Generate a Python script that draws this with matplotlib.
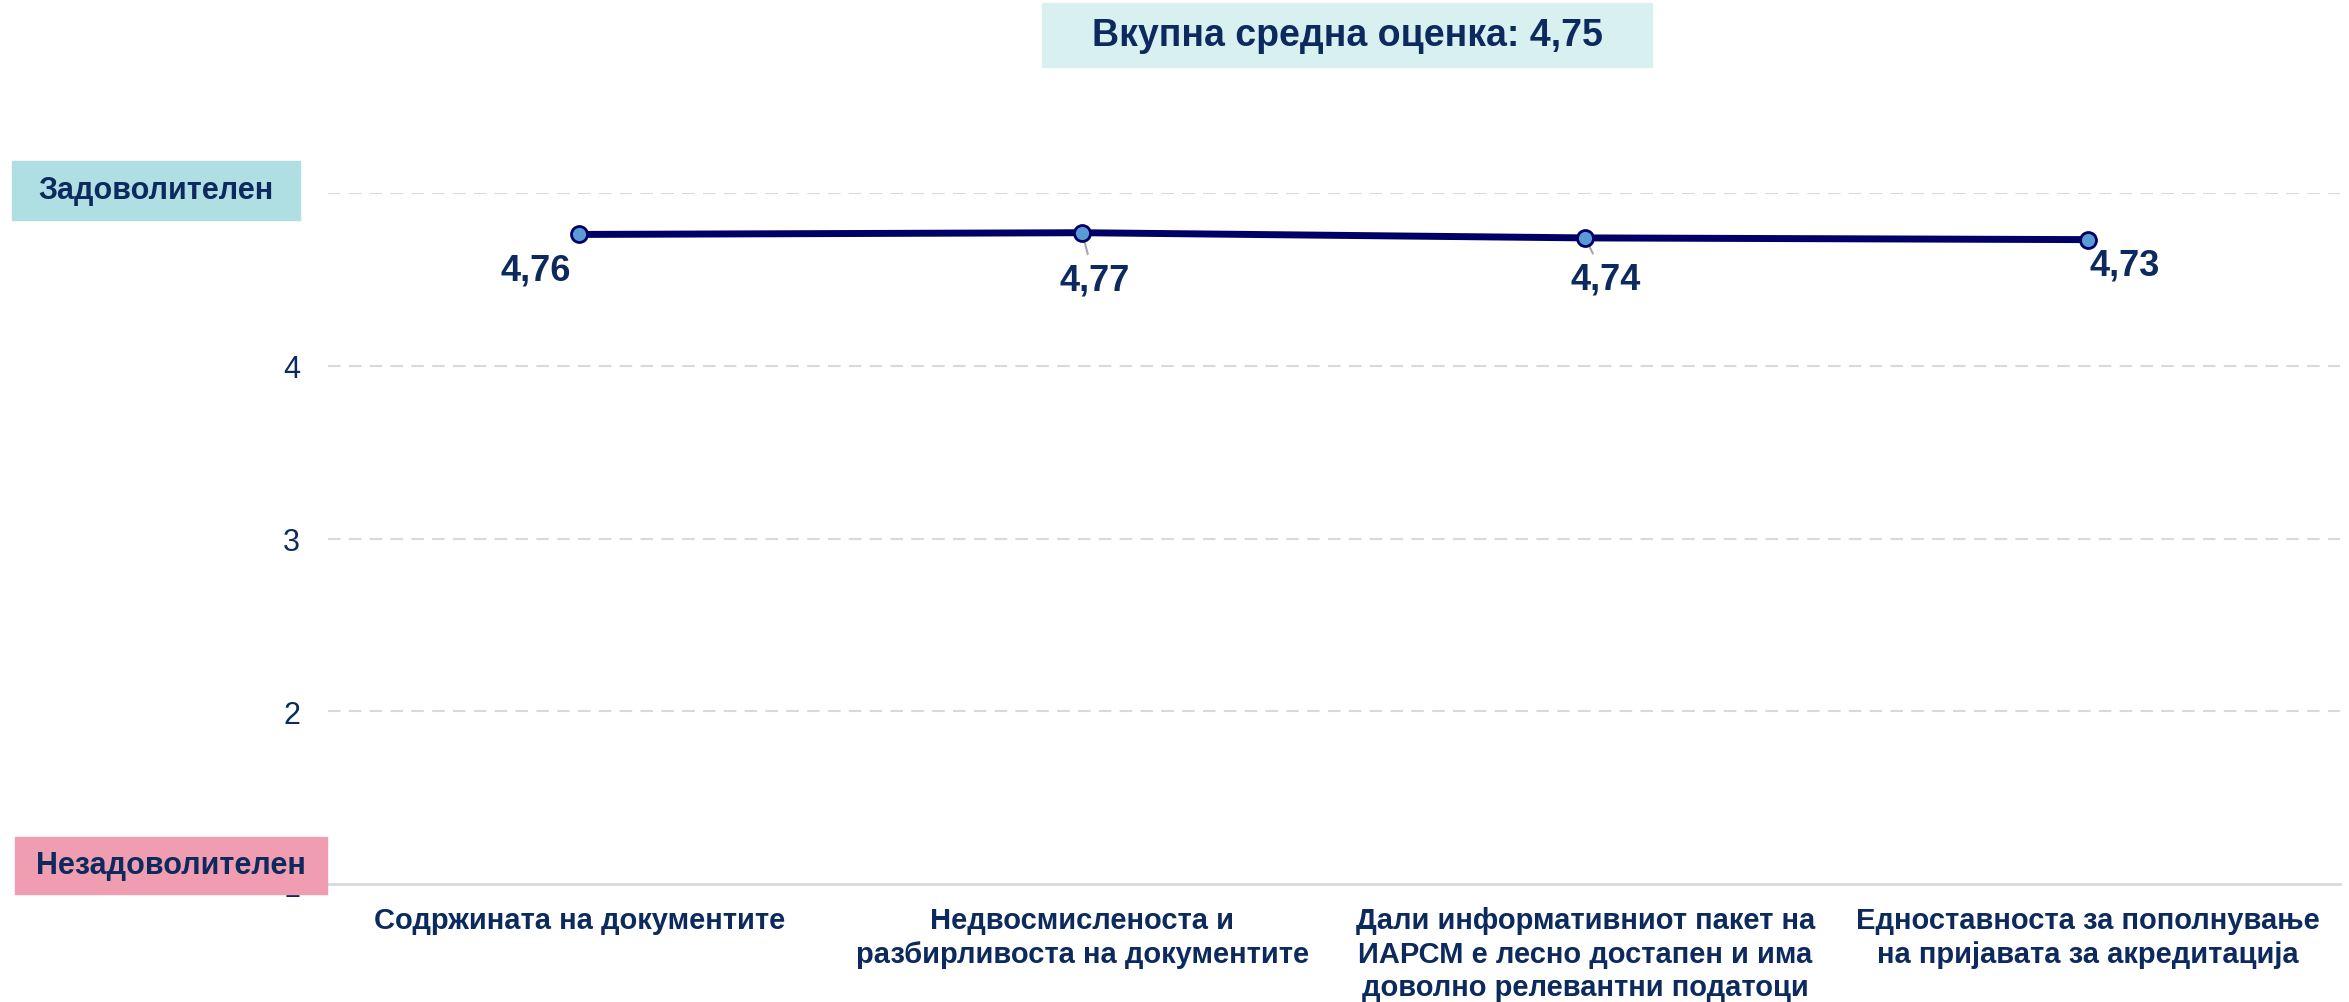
import matplotlib.pyplot as plt
from matplotlib.patches import Rectangle

# data
categories = [
    "Содржината на документите",
    "Недвосмисленоста и\nразбирливоста на документите",
    "Дали информативниот пакет на\nИАРСМ е лесно достапен и има\nдоволно релевантни податоци",
    "Едноставноста за пополнување\nна пријавата за акредитација",
]
scores = [4.76, 4.77, 4.74, 4.73]
score_labels = ["4,76", "4,77", "4,74", "4,73"]
yticks = [1, 2, 3, 4, 5]
overall = "4,75"

navy = '#0d2a5e'
plt.rcParams['font.family'] = ['Liberation Sans', 'DejaVu Sans']

fig = plt.figure(figsize=(23.49, 10.03), dpi=100)
ax = fig.add_axes([0.1396, 0.1176, 0.8564, 0.6890])

x = list(range(len(scores)))
ax.plot(x, scores, color='#000066', lw=5, marker='o', ms=11.5,
        mfc='#5b9bd5', mec='#000066', mew=2, zorder=3)

# data labels (offsets in pixels, leader line for the middle two)
offsets = [(-44, -36), (12, -47), (20, -41), (36, -25)]
leaders = [False, True, True, False]
for xi, yi, lab, off, ld in zip(x, scores, score_labels, offsets, leaders):
    ax.annotate(lab, (xi, yi), xytext=(off[0] * 0.72, off[1] * 0.72),
                textcoords='offset points', ha='center', va='center',
                fontsize=26, fontweight='bold', color=navy, zorder=2,
                arrowprops=dict(arrowstyle='-', color='#a6a6a6', lw=1.5,
                                shrinkA=4, shrinkB=0) if ld else None)

ax.set_xlim(-0.5, 3.5)
ax.set_ylim(1, 5)
ax.set_yticks(yticks)
ax.set_yticklabels([str(v) for v in yticks], fontsize=22, color=navy)
ax.set_xticks(x)
ax.set_xticklabels(categories, fontsize=21, fontweight='bold', color=navy,
                   linespacing=1.25)
ax.tick_params(axis='both', length=0)
ax.tick_params(axis='y', pad=20)
ax.tick_params(axis='x', pad=16)

for v in yticks[1:]:
    ax.axhline(v, color='#d9d9d9', lw=1.5, dashes=(6, 4), zorder=1)

for s in ['top', 'right', 'left']:
    ax.spines[s].set_visible(False)
ax.spines['bottom'].set_color('#d9d9d9')
ax.spines['bottom'].set_linewidth(2)

# boxes in figure pixels -> figure fraction
W, H = 2349, 1003


def box(x0, y0, x1, y1, color, text, size):
    fig.add_artist(Rectangle((x0 / W, 1 - y1 / H), (x1 - x0) / W, (y1 - y0) / H,
                             transform=fig.transFigure, color=color, zorder=5))
    fig.text((x0 + x1) / 2 / W, 1 - (y0 + y1) / 2 / H, text, ha='center',
             va='center', fontsize=size, fontweight='bold', color=navy, zorder=6)


box(1042, 4, 1652, 68, '#d9f0f1', "Вкупна средна оценка: " + overall, 27)
box(12, 162, 300, 221, '#b0dfe3', "Задоволителен", 22)
box(15, 838, 327, 895, '#f19db1', "Незадоволителен", 22)

fig.savefig('out.png', dpi=100)
